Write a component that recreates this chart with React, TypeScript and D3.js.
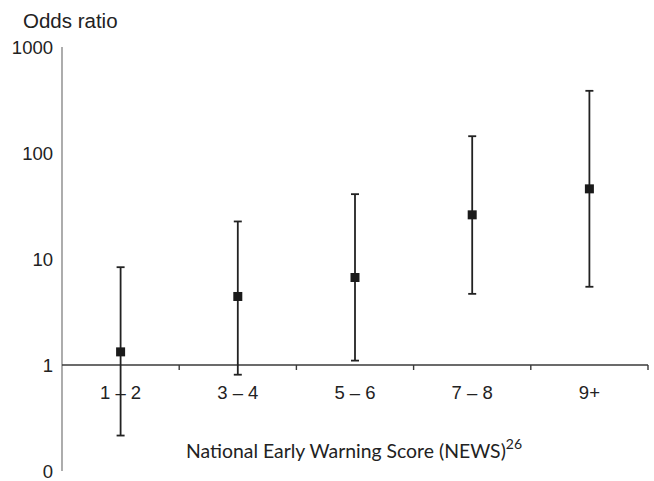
import React from "react";
import * as d3 from "d3";

const categories = ["1 – 2", "3 – 4", "5 – 6", "7 – 8", "9+"];
const oddsRatio = [1.33, 4.43, 6.69, 26.1, 45.9];
const lowerCI = [0.216, 0.81, 1.1, 4.69, 5.47];
const upperCI = [8.37, 22.6, 40.9, 144, 386];
const yTicks = [0.1, 1, 10, 100, 1000];
const yTickLabels = ["0", "1", "10", "100", "1000"];

const W = 654;
const H = 481;

export default function App() {
  const x = d3.scaleBand<string>().domain(categories).range([62, 648]);
  const y = d3.scaleLog().domain([0.1, 1000]).range([471, 47]);
  const axisY = y(1);
  const tickFont = "Liberation Sans, Arial, sans-serif";
  const boundaries = categories.map((c) => (x(c) as number) + x.bandwidth());
  return (
    <svg width={W} height={H} style={{ position: "absolute", left: 0, top: 0, background: "#fff" }}>
      <text x={23} y={28} fontFamily={tickFont} fontSize={20.5} fill="#222">
        Odds ratio
      </text>
      {/* y axis */}
      <line x1={62} x2={62} y1={y(1000)} y2={y(0.1)} stroke="#808080" strokeWidth={1.3} />
      {yTicks.map((t, i) => (
        <text
          key={t}
          x={53}
          y={y(t)}
          dy="0.36em"
          textAnchor="end"
          fontFamily={tickFont}
          fontSize={18.5}
          fill="#222"
        >
          {yTickLabels[i]}
        </text>
      ))}
      {/* x axis */}
      <line x1={62} x2={648} y1={axisY} y2={axisY} stroke="#3a3a3a" strokeWidth={1.6} />
      {boundaries.map((b, i) => (
        <line key={i} x1={b} x2={b} y1={axisY} y2={axisY + 5} stroke="#3a3a3a" strokeWidth={1.4} />
      ))}
      {categories.map((c) => (
        <text
          key={c}
          x={(x(c) as number) + x.bandwidth() / 2}
          y={398.5}
          textAnchor="middle"
          fontFamily={tickFont}
          fontSize={18.5}
          fill="#222"
        >
          {c}
        </text>
      ))}
      {/* error bars */}
      {categories.map((c, i) => {
        const cx = (x(c) as number) + x.bandwidth() / 2;
        return (
          <g key={c}>
            <line x1={cx} x2={cx} y1={y(upperCI[i])} y2={y(lowerCI[i])} stroke="#222" strokeWidth={1.8} />
            <line x1={cx - 4} x2={cx + 4} y1={y(upperCI[i])} y2={y(upperCI[i])} stroke="#222" strokeWidth={1.8} />
            <line x1={cx - 4} x2={cx + 4} y1={y(lowerCI[i])} y2={y(lowerCI[i])} stroke="#222" strokeWidth={1.8} />
            <rect x={cx - 4.5} y={y(oddsRatio[i]) - 4.5} width={9} height={9} fill="#1a1a1a" />
          </g>
        );
      })}
      <text x={186} y={458} fontFamily="Lato, Open Sans, sans-serif" fontSize={19.4} fill="#222">
        National Early Warning Score (NEWS)
        <tspan fontSize={14} dy={-9}>26</tspan>
      </text>
    </svg>
  );
}
